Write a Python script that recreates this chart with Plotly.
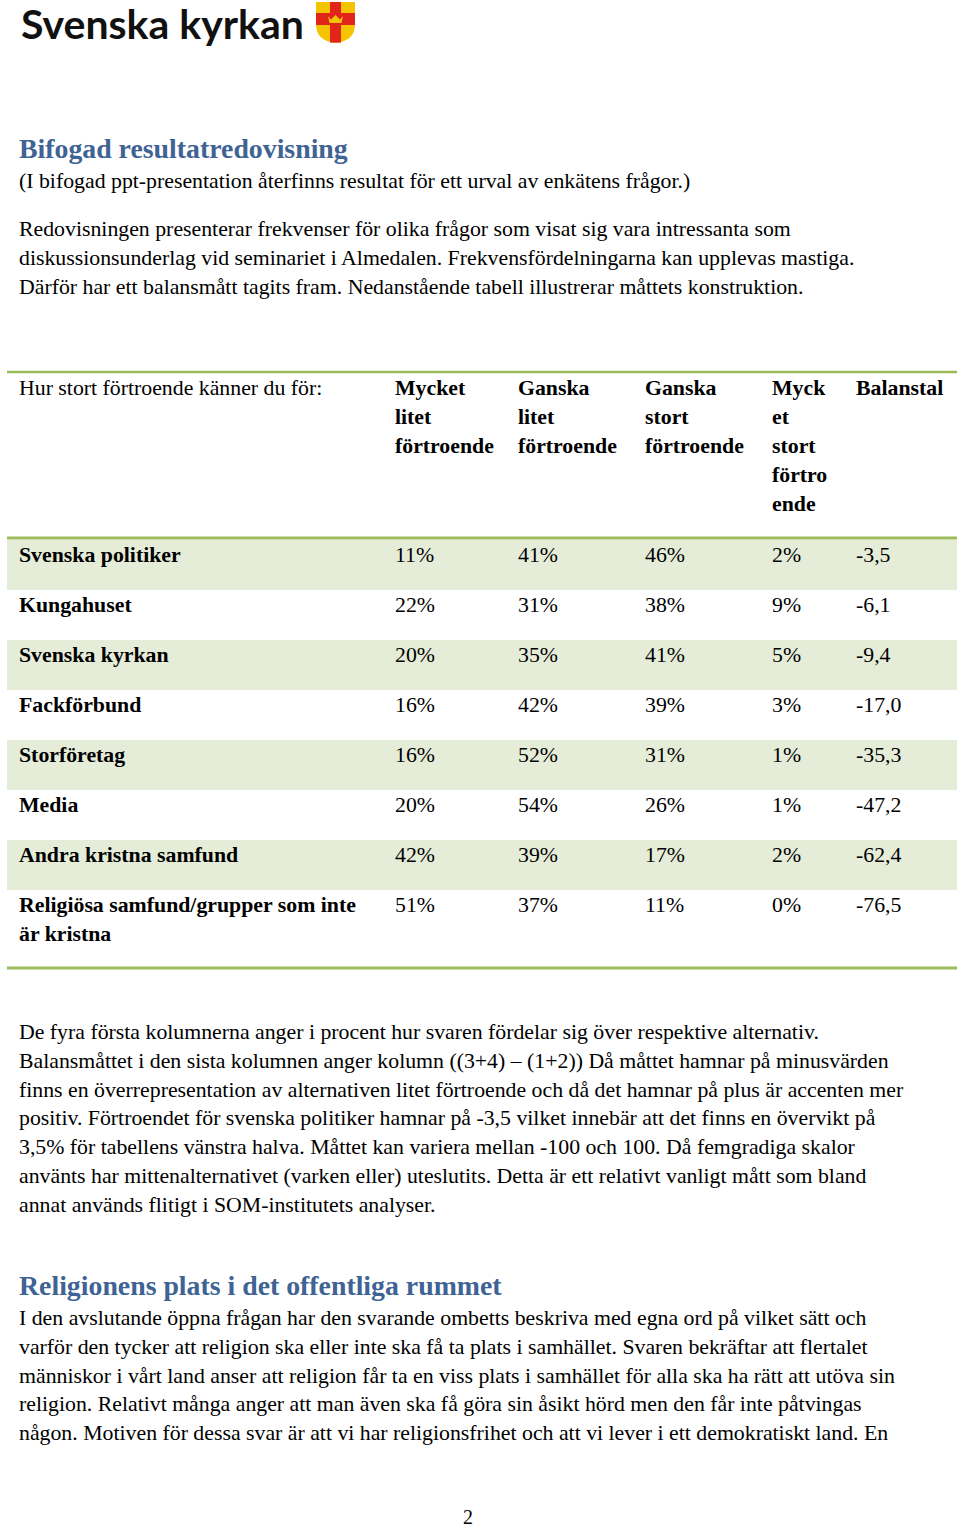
import plotly.graph_objects as go

# --- table data ---
question = "Hur stort förtroende känner du för:"
header_cols = [
    ["Mycket", "litet", "förtroende"],
    ["Ganska", "litet", "förtroende"],
    ["Ganska", "stort", "förtroende"],
    ["Myck", "et", "stort", "förtro", "ende"],
    ["Balanstal"],
]
categories = [
    ["Svenska politiker"],
    ["Kungahuset"],
    ["Svenska kyrkan"],
    ["Fackförbund"],
    ["Storföretag"],
    ["Media"],
    ["Andra kristna samfund"],
    ["Religiösa samfund/grupper som inte", "är kristna"],
]
mycket_litet = [11, 22, 20, 16, 16, 20, 42, 51]
ganska_litet = [41, 31, 35, 42, 52, 54, 39, 37]
ganska_stort = [46, 38, 41, 39, 31, 26, 17, 11]
mycket_stort = [2, 9, 5, 3, 1, 1, 2, 0]
balanstal = [-3.5, -6.1, -9.4, -17.0, -35.3, -47.2, -62.4, -76.5]

# --- page text ---
title1 = "Bifogad resultatredovisning"
intro = "(I bifogad ppt-presentation återfinns resultat för ett urval av enkätens frågor.)"
para1 = [
    "Redovisningen presenterar frekvenser för olika frågor som visat sig vara intressanta som",
    "diskussionsunderlag vid seminariet i Almedalen. Frekvensfördelningarna kan upplevas mastiga.",
    "Därför har ett balansmått tagits fram. Nedanstående tabell illustrerar måttets konstruktion.",
]
para2 = [
    "De fyra första kolumnerna anger i procent hur svaren fördelar sig över respektive alternativ.",
    "Balansmåttet i den sista kolumnen anger kolumn ((3+4) – (1+2)) Då måttet hamnar på minusvärden",
    "finns en överrepresentation av alternativen litet förtroende och då det hamnar på plus är accenten mer",
    "positiv. Förtroendet för svenska politiker hamnar på -3,5 vilket innebär att det finns en övervikt på",
    "3,5% för tabellens vänstra halva. Måttet kan variera mellan -100 och 100. Då femgradiga skalor",
    "använts har mittenalternativet (varken eller) uteslutits. Detta är ett relativt vanligt mått som bland",
    "annat används flitigt i SOM-institutets analyser.",
]
title2 = "Religionens plats i det offentliga rummet"
para3 = [
    "I den avslutande öppna frågan har den svarande ombetts beskriva med egna ord på vilket sätt och",
    "varför den tycker att religion ska eller inte ska få ta plats i samhället. Svaren bekräftar att flertalet",
    "människor i vårt land anser att religion får ta en viss plats i samhället för alla ska ha rätt att utöva sin",
    "religion. Relativt många anger att man även ska få göra sin åsikt hörd men den får inte påtvingas",
    "någon. Motiven för dessa svar är att vi har religionsfrihet och att vi lever i ett demokratiskt land. En",
]
page_number = "2"

# --- styling ---
W, H = 960, 1527
SERIF = "Liberation Serif"
BLUE = "#3E6394"
GREEN = "#9BBB59"
ROW_FILL = "#E5EDD9"
LEFT = 19
LINE = 29
BODY = 21.8
TBL = 21.8
HEAD = 27.8
col_x = [395, 518, 645, 772, 856]
row_top0 = 540
row_h = 50

annotations = []
shapes = []


def txt(x, y, s, size=BODY, bold=False, color="black", family=SERIF, anchor="left"):
    annotations.append(dict(
        x=x, y=y, xref="x", yref="y", text=s, showarrow=False,
        xanchor=anchor, yanchor="middle", borderpad=0, borderwidth=0,
        font=dict(family=family, size=size, color=color,
                  weight="bold" if bold else "normal"),
    ))


# logo
txt(21, 23, "Svenska kyrkan", size=41, family="Lato", color="#111111", bold=True)
shapes.append(dict(type="path", xref="x", yref="y",
                   path="M316,2 L355,2 L355,24 Q355,41 335.5,43 Q316,41 316,24 Z",
                   fillcolor="#F5C400", line=dict(width=0)))
shapes.append(dict(type="rect", xref="x", yref="y", x0=330, x1=341, y0=2, y1=42.6,
                   fillcolor="#E1251B", line=dict(width=0)))
shapes.append(dict(type="rect", xref="x", yref="y", x0=316, x1=355, y0=13, y1=25,
                   fillcolor="#E1251B", line=dict(width=0)))
shapes.append(dict(type="path", xref="x", yref="y",
                   path="M328,16 L331,19.5 L335.5,15 L340,19.5 L343,16 L341.5,23 L329.5,23 Z",
                   fillcolor="#F5C400", line=dict(width=0)))

# heading + intro text
txt(LEFT, 148, title1, size=HEAD, bold=True, color=BLUE)
txt(LEFT, 181, intro)
for i, s in enumerate(para1):
    txt(LEFT, 229 + i * LINE, s)

# table rules
for y, w in [(372, 2.5), (538, 3), (968, 3)]:
    shapes.append(dict(type="line", xref="x", yref="y", x0=7, x1=957, y0=y, y1=y,
                       line=dict(color=GREEN, width=w)))

# table header
txt(LEFT, 388, question, size=TBL)
for cx, lines in zip(col_x, header_cols):
    for j, s in enumerate(lines):
        txt(cx, 388 + j * LINE, s, size=TBL, bold=True)

# table body
columns = [
    [f"{v}%" for v in mycket_litet],
    [f"{v}%" for v in ganska_litet],
    [f"{v}%" for v in ganska_stort],
    [f"{v}%" for v in mycket_stort],
    [f"{v:.1f}".replace(".", ",") for v in balanstal],
]
for i, label in enumerate(categories):
    top = row_top0 + i * row_h
    if i % 2 == 0:
        shapes.append(dict(type="rect", xref="x", yref="y", x0=7, x1=957,
                           y0=top, y1=top + row_h, fillcolor=ROW_FILL,
                           line=dict(width=0), layer="below"))
    for j, s in enumerate(label):
        txt(LEFT, top + 15 + j * LINE, s, size=TBL, bold=True)
    for cx, col in zip(col_x, columns):
        txt(cx, top + 15, col[i], size=TBL)

# explanation
for i, s in enumerate(para2):
    txt(LEFT, 1032 + i * 28.8, s)

txt(LEFT, 1285, title2, size=HEAD, bold=True, color=BLUE)
for i, s in enumerate(para3):
    txt(LEFT, 1318 + i * 28.8, s)

txt(468, 1517, page_number, size=20, anchor="center")

fig = go.Figure()
fig.add_trace(go.Scatter(x=[0, W], y=[0, H], mode="markers",
                         marker=dict(opacity=0), hoverinfo="skip", showlegend=False))
fig.update_layout(
    width=W, height=H,
    margin=dict(l=0, r=0, t=0, b=0),
    paper_bgcolor="white", plot_bgcolor="white",
    xaxis=dict(range=[0, W], visible=False, fixedrange=True),
    yaxis=dict(range=[H, 0], visible=False, fixedrange=True),
    annotations=annotations, shapes=shapes, showlegend=False,
)
# page body margin off so the figure sits at the top-left corner
fig.write_html("out.html", config={"displayModeBar": False},
               post_script="document.body.style.margin='0';")
